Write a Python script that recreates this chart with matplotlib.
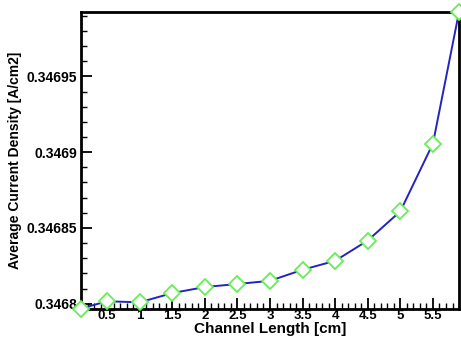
import matplotlib
matplotlib.use("Agg")
import matplotlib.pyplot as plt
from matplotlib.ticker import MultipleLocator, FuncFormatter

plt.rcParams['font.family'] = ['Liberation Sans', 'DejaVu Sans']

channel_length = [0.1, 0.5, 1.0, 1.5, 2.0, 2.5, 3.0, 3.5, 4.0, 4.5, 5.0, 5.5, 5.9]
current_density = [0.3467968, 0.3468016, 0.3468009, 0.3468070, 0.3468110, 0.3468130,
                   0.3468151, 0.3468224, 0.3468283, 0.3468417, 0.3468610, 0.3469057,
                   0.3469925]
xticks = [0.5, 1, 1.5, 2, 2.5, 3, 3.5, 4, 4.5, 5, 5.5]
yticks = [0.3468, 0.34685, 0.3469, 0.34695]

fig = plt.figure(figsize=(4.61, 3.39), dpi=100)
ax = fig.add_axes([0.1757, 0.0885, 0.8200, 0.8761])

ax.plot(channel_length, current_density, color='#2323c0', lw=1.4, zorder=2)
ax.plot(channel_length, current_density, ls='none', marker='D', ms=8.5,
        mfc='white', mec='#66ee55', mew=1.3, zorder=3, clip_on=False)

ax.set_xlim(0.1, 5.9)
ax.set_ylim(0.3467965, 0.3469925)
ax.set_xticks(xticks)
ax.set_yticks(yticks)
ax.xaxis.set_minor_locator(MultipleLocator(0.1))
ax.yaxis.set_minor_locator(MultipleLocator(0.00001))
ax.xaxis.set_major_formatter(FuncFormatter(lambda v, p: '%g' % v))
ax.yaxis.set_major_formatter(FuncFormatter(lambda v, p: '%g' % round(v, 6)))
ax.tick_params(which='major', direction='in', length=8, width=1.3, labelsize=10, pad=3)
ax.tick_params(axis='x', which='major', pad=1, labelsize=9.5)
ax.tick_params(which='minor', direction='in', length=4, width=1)
ax.tick_params(top=False, right=False, which='both')
for lab in ax.get_xticklabels() + ax.get_yticklabels():
    lab.set_fontweight('bold')
for s in ax.spines.values():
    s.set_linewidth(2)

ax.set_xlabel('Channel Length [cm]', fontsize=11, fontweight='bold', labelpad=0)
ax.set_ylabel('Average Current Density [A/cm2]', fontsize=10, fontweight='bold', labelpad=3)

fig.savefig('out.png', dpi=100)
